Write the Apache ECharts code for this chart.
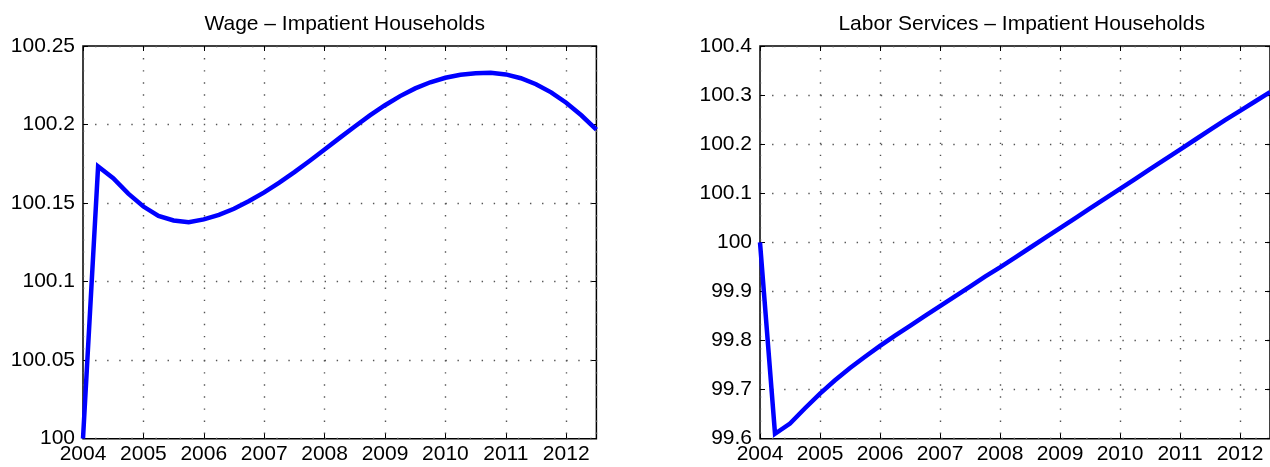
<!DOCTYPE html>
<html>
<head>
<meta charset="utf-8">
<title>Impatient Households</title>
<script src="https://cdn.jsdelivr.net/npm/echarts@6/dist/echarts.min.js"></script>
<style>
  html, body { margin: 0; padding: 0; background: #ffffff; }
  #chart { width: 1270px; height: 467px; }
</style>
</head>
<body>
<div id="chart"></div>
<script>
// Quarterly time axis (years)
const quarters = [
  2004.00, 2004.25, 2004.50, 2004.75,
  2005.00, 2005.25, 2005.50, 2005.75,
  2006.00, 2006.25, 2006.50, 2006.75,
  2007.00, 2007.25, 2007.50, 2007.75,
  2008.00, 2008.25, 2008.50, 2008.75,
  2009.00, 2009.25, 2009.50, 2009.75,
  2010.00, 2010.25, 2010.50, 2010.75,
  2011.00, 2011.25, 2011.50, 2011.75,
  2012.00, 2012.25, 2012.50
];

// Wage index, impatient households
const wage = [
  100.0000, 100.1733, 100.1659, 100.1560,
  100.1478, 100.1418, 100.1389, 100.1378,
  100.1396, 100.1425, 100.1464, 100.1513,
  100.1568, 100.1630, 100.1697, 100.1768,
  100.1841, 100.1915, 100.1988, 100.2058,
  100.2123, 100.2181, 100.2230, 100.2269,
  100.2298, 100.2317, 100.2327, 100.2329,
  100.2319, 100.2295, 100.2257, 100.2205,
  100.2139, 100.2059, 100.1967
];

// Labor services index, impatient households
const labor = [
  100.000, 99.610, 99.631, 99.662,
  99.692, 99.719, 99.744, 99.767,
  99.789, 99.810, 99.830, 99.850,
  99.870, 99.890, 99.910, 99.930,
  99.949, 99.969, 99.989, 100.009,
  100.029, 100.049, 100.069, 100.089,
  100.109, 100.129, 100.149, 100.169,
  100.189, 100.209, 100.229, 100.249,
  100.268, 100.287, 100.306
];

const titles = ['Wage \u2013 Impatient Households', 'Labor Services \u2013 Impatient Households'];
const yRanges = [[100, 100.25, 0.05], [99.6, 100.4, 0.1]];
const xRange = [2004, 2012.5, 1];

const FONT = '"Liberation Sans", Arial, Helvetica, sans-serif';
const FS = 21;
const gridDash = { color: '#555', width: 1.4, type: [1.4, 10.68] };
const tickStyle = { show: true, inside: true, length: 5, lineStyle: { color: '#000', width: 1 } };

const grids = [
  { left: 83, top: 46, width: 513.4, height: 392.7 },
  { left: 760, top: 46, width: 513.4, height: 392.7 }
];

const xAxes = [], yAxes = [], series = [], titleList = [];

grids.forEach((g, i) => {
  g.show = true;
  g.borderColor = '#000';
  g.borderWidth = 1.5;
  g.backgroundColor = 'transparent';

  // bottom axis with labels and dotted vertical grid
  xAxes.push({
    type: 'value', gridIndex: i, position: 'bottom',
    min: xRange[0], max: xRange[1], interval: xRange[2],
    axisLine: { show: false },
    axisTick: tickStyle,
    axisLabel: { show: true, color: '#000', fontFamily: FONT, fontSize: FS, margin: 5, showMaxLabel: false,
                 formatter: v => String(v) },
    splitLine: { show: true, lineStyle: gridDash }
  });
  // mirrored top axis (ticks only)
  xAxes.push({
    type: 'value', gridIndex: i, position: 'top',
    min: xRange[0], max: xRange[1], interval: xRange[2],
    axisLine: { show: false },
    axisTick: tickStyle,
    axisLabel: { show: false },
    splitLine: { show: false }
  });

  const yr = yRanges[i];
  yAxes.push({
    type: 'value', gridIndex: i, position: 'left',
    min: yr[0], max: yr[1], interval: yr[2],
    axisLine: { show: false },
    axisTick: tickStyle,
    axisLabel: { show: true, color: '#000', fontFamily: FONT, fontSize: FS, margin: 8 },
    splitLine: { show: true, lineStyle: gridDash }
  });
  // mirrored right axis (ticks only)
  yAxes.push({
    type: 'value', gridIndex: i, position: 'right',
    min: yr[0], max: yr[1], interval: yr[2],
    axisLine: { show: false },
    axisTick: tickStyle,
    axisLabel: { show: false },
    splitLine: { show: false }
  });

  titleList.push({
    text: titles[i],
    left: g.left + g.width / 2,
    top: 9,
    textAlign: 'center',
    textStyle: { color: '#000', fontFamily: FONT, fontSize: FS, fontWeight: 'normal' }
  });
});

const values = [wage, labor];
values.forEach((vals, i) => {
  series.push({
    type: 'line',
    xAxisIndex: i * 2,
    yAxisIndex: i * 2,
    data: quarters.map((q, k) => [q, vals[k]]),
    showSymbol: false,
    symbol: 'none',
    smooth: false,
    clip: true,
    lineStyle: { color: '#0000ff', width: 4.5, join: 'miter' },
    z: 5
  });
});

const chart = echarts.init(document.getElementById('chart'), null, { renderer: 'canvas' });
chart.setOption({
  animation: false,
  backgroundColor: '#ffffff',
  title: titleList,
  grid: grids,
  xAxis: xAxes,
  yAxis: yAxes,
  series: series
});
</script>
</body>
</html>
